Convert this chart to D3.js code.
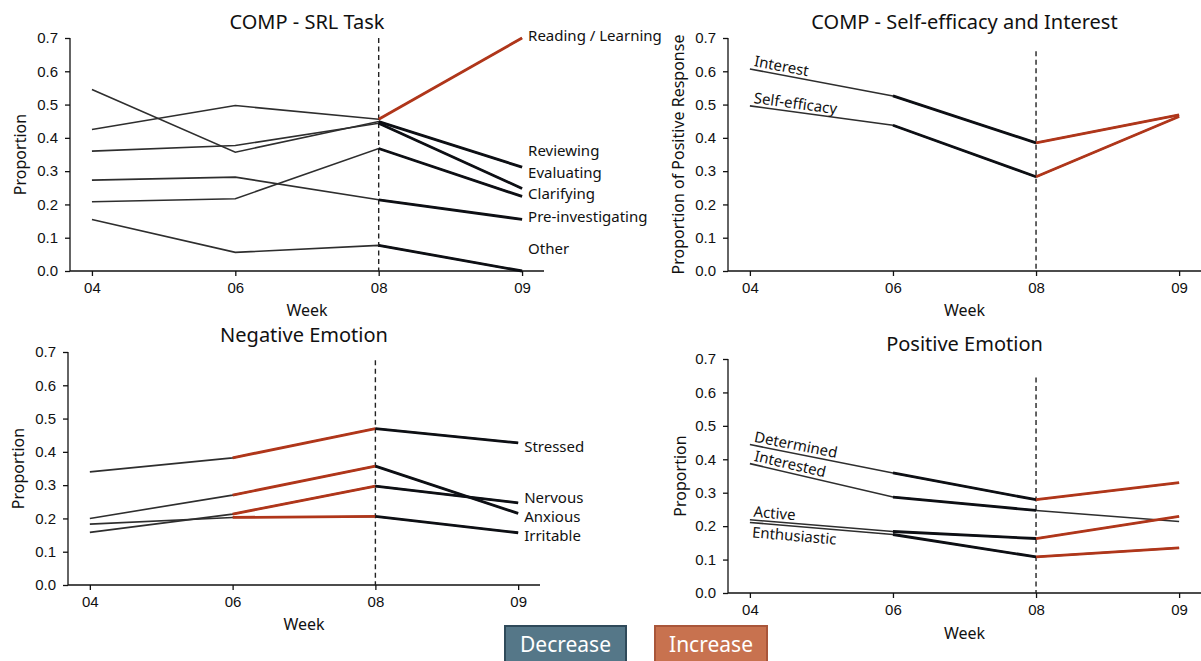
<!DOCTYPE html>
<html>
<head>
<meta charset="utf-8">
<script src="https://cdn.jsdelivr.net/npm/d3@7"></script>
<style>
  body { margin: 0; background: #fff; }
  svg { display: block; font-family: "Noto Sans", sans-serif; }
</style>
</head>
<body>
<svg id="chart" width="1201" height="661"></svg>
<script>
// week categories and y ticks shared by all panels
const weeks = ["04", "06", "08", "09"];
const yTicks = [0, 0.1, 0.2, 0.3, 0.4, 0.5, 0.6, 0.7];

// COMP - SRL Task
const srlNames = ["Reading / Learning", "Reviewing", "Evaluating", "Clarifying", "Pre-investigating", "Other"];
const srlReading = [0.425, 0.497, 0.456, 0.700];
const srlReviewing = [0.545, 0.357, 0.449, 0.312];
const srlEvaluating = [0.360, 0.377, 0.444, 0.248];
const srlClarifying = [0.208, 0.217, 0.368, 0.224];
const srlPreInvestigating = [0.273, 0.282, 0.214, 0.155];
const srlOther = [0.155, 0.056, 0.077, 0.000];

// COMP - Self-efficacy and Interest
const effNames = ["Interest", "Self-efficacy"];
const effInterest = [0.607, 0.526, 0.385, 0.469];
const effSelfEfficacy = [0.496, 0.438, 0.283, 0.464];

// Negative Emotion
const negNames = ["Stressed", "Nervous", "Anxious", "Irritable"];
const negStressed = [0.340, 0.382, 0.470, 0.427];
const negNervous = [0.158, 0.213, 0.297, 0.247];
const negAnxious = [0.200, 0.270, 0.357, 0.215];
const negIrritable = [0.183, 0.203, 0.206, 0.157];

// Positive Emotion
const posNames = ["Determined", "Interested", "Active", "Enthusiastic"];
const posDetermined = [0.444, 0.359, 0.279, 0.330];
const posInterested = [0.387, 0.287, 0.247, 0.214];
const posActive = [0.219, 0.184, 0.163, 0.229];
const posEnthusiastic = [0.211, 0.175, 0.108, 0.135];

// which week-to-week segments are highlighted (per series)
const srlHighlight = [[0, 0, 1], [0, 0, 1], [0, 0, 1], [0, 0, 1], [0, 0, 1], [0, 0, 1]];
const effHighlight = [[0, 1, 1], [0, 1, 1]];
const negHighlight = [[0, 1, 1], [0, 1, 1], [0, 1, 1], [0, 1, 1]];
const posHighlight = [[0, 1, 1], [0, 1, 0], [0, 1, 1], [0, 1, 1]];

const thinColor = "#2e2e2e";
const downColor = "#0d0f14";
const upColor = "#b0361a";

const svg = d3.select("#chart");

const panels = [
    {
        title: "COMP - SRL Task", ylabel: "Proportion",
        names: srlNames,
        values: [srlReading, srlReviewing, srlEvaluating, srlClarifying, srlPreInvestigating, srlOther],
        highlight: srlHighlight,
        x0: 70, x1: 544, top: 38, bottom: 271, dashTop: 0.7, ylabelX: 20,
        titleY: 29, weekY: 316,
        endLabels: [0.706, 0.36, 0.294, 0.231, 0.162, 0.066], endDx: 6
    },
    {
        title: "COMP - Self-efficacy and Interest", ylabel: "Proportion of Positive Response",
        names: effNames,
        values: [effInterest, effSelfEfficacy],
        highlight: effHighlight,
        x0: 728, x1: 1201, top: 38, bottom: 271, dashTop: 0.66, ylabelX: 678,
        titleY: 29, weekY: 316,
        startLabels: [-3, -3]
    },
    {
        title: "Negative Emotion", ylabel: "Proportion",
        names: negNames,
        values: [negStressed, negNervous, negAnxious, negIrritable],
        highlight: negHighlight,
        x0: 68, x1: 540, top: 352, bottom: 585, dashTop: 0.675, ylabelX: 18,
        titleY: 342, weekY: 630,
        endLabels: [0.414, 0.261, 0.204, 0.147], endDx: 6
    },
    {
        title: "Positive Emotion", ylabel: "Proportion",
        names: posNames,
        values: [posDetermined, posInterested, posActive, posEnthusiastic],
        highlight: posHighlight,
        x0: 728, x1: 1201, top: 359, bottom: 593, dashTop: 0.645, ylabelX: 680,
        titleY: 351, weekY: 639,
        startLabels: [-3, -3, -3, 15]
    }
];

panels.forEach(p => {
    const x = d3.scalePoint()
        .domain(weeks)
        .range([p.x0, p.x1])
        .padding(0.153);

    const y = d3.scaleLinear()
        .domain([0, 0.7])
        .range([p.bottom, p.top]);

    const g = svg.append("g");

    // axes
    g.append("g")
        .attr("transform", `translate(0,${p.bottom})`)
        .call(d3.axisBottom(x).tickSize(5).tickPadding(6))
        .call(a => a.select(".domain").attr("d", `M${p.x0},0H${p.x1}`));

    g.append("g")
        .attr("transform", `translate(${p.x0},0)`)
        .call(d3.axisLeft(y).tickValues(yTicks).tickFormat(d3.format(".1f")).tickSize(5).tickPadding(7))
        .call(a => a.select(".domain").attr("d", `M0,${p.bottom}V${p.top}`));

    g.selectAll(".tick text")
        .style("font-size", "15px")
        .attr("fill", "#111");
    g.selectAll(".domain, .tick line")
        .attr("stroke", "#111")
        .attr("stroke-width", 1.3);

    // dashed marker at week 08
    g.append("line")
        .attr("x1", x("08")).attr("x2", x("08"))
        .attr("y1", y(p.dashTop)).attr("y2", y(0))
        .attr("stroke", "#222")
        .attr("stroke-width", 1.4)
        .attr("stroke-dasharray", "5,3.5");

    const line = d3.line()
        .x((d, i) => x(weeks[i]))
        .y(d => y(d));

    // base lines
    g.selectAll(".base")
        .data(p.values)
        .enter()
        .append("path")
        .attr("class", "base")
        .attr("d", d => line(d))
        .attr("fill", "none")
        .attr("stroke", thinColor)
        .attr("stroke-width", 1.6);

    // highlighted segments
    p.values.forEach((vals, s) => {
        p.highlight[s].forEach((on, i) => {
            if (!on) return;
            const up = vals[i + 1] >= vals[i];
            g.append("line")
                .attr("x1", x(weeks[i])).attr("y1", y(vals[i]))
                .attr("x2", x(weeks[i + 1])).attr("y2", y(vals[i + 1]))
                .attr("stroke", up ? upColor : downColor)
                .attr("stroke-width", 2.8);
        });
    });

    // series labels at the right end
    if (p.endLabels) {
        g.selectAll(".end-label")
            .data(p.names)
            .enter()
            .append("text")
            .attr("x", x("09") + p.endDx)
            .attr("y", (d, i) => y(p.endLabels[i]))
            .attr("dy", "0.35em")
            .style("font-size", "15px")
            .attr("fill", "#111")
            .text(d => d);
    }

    // series labels along the first segment
    if (p.startLabels) {
        p.names.forEach((name, i) => {
            const v = p.values[i];
            const x0 = x(weeks[0]), y0 = y(v[0]);
            const ang = Math.atan2(y(v[1]) - y0, x(weeks[1]) - x0) * 180 / Math.PI;
            g.append("text")
                .attr("transform", `translate(${x0 + 3},${y0}) rotate(${ang})`)
                .attr("y", p.startLabels[i])
                .style("font-size", "15px")
                .attr("fill", "#111")
                .text(name);
        });
    }

    // titles and axis labels
    g.append("text")
        .attr("x", (p.x0 + p.x1) / 2)
        .attr("y", p.titleY)
        .attr("text-anchor", "middle")
        .style("font-size", "20px")
        .attr("fill", "#111")
        .text(p.title);

    g.append("text")
        .attr("x", (p.x0 + p.x1) / 2)
        .attr("y", p.weekY)
        .attr("text-anchor", "middle")
        .style("font-size", "16px")
        .attr("fill", "#111")
        .text("Week");

    g.append("text")
        .attr("transform", `translate(${p.ylabelX},${(p.top + p.bottom) / 2}) rotate(-90)`)
        .attr("text-anchor", "middle")
        .attr("dy", "0.35em")
        .style("font-size", "16px")
        .attr("fill", "#111")
        .text(p.ylabel);
});

// legend boxes
const legend = [
    { label: "Decrease", x: 505, w: 121, fill: "#557788", stroke: "#2f4a5a" },
    { label: "Increase", x: 655, w: 112, fill: "#c8724f", stroke: "#a9563a" }
];

const lg = svg.selectAll(".legend")
    .data(legend)
    .enter()
    .append("g")
    .attr("class", "legend");

lg.append("rect")
    .attr("x", d => d.x)
    .attr("y", 626)
    .attr("width", d => d.w)
    .attr("height", 38)
    .attr("fill", d => d.fill)
    .attr("stroke", d => d.stroke)
    .attr("stroke-width", 2);

lg.append("text")
    .attr("x", d => d.x + d.w / 2)
    .attr("y", 645)
    .attr("dy", "0.35em")
    .attr("text-anchor", "middle")
    .style("font-size", "21px")
    .attr("fill", "#fff")
    .text(d => d.label);
</script>
</body>
</html>
